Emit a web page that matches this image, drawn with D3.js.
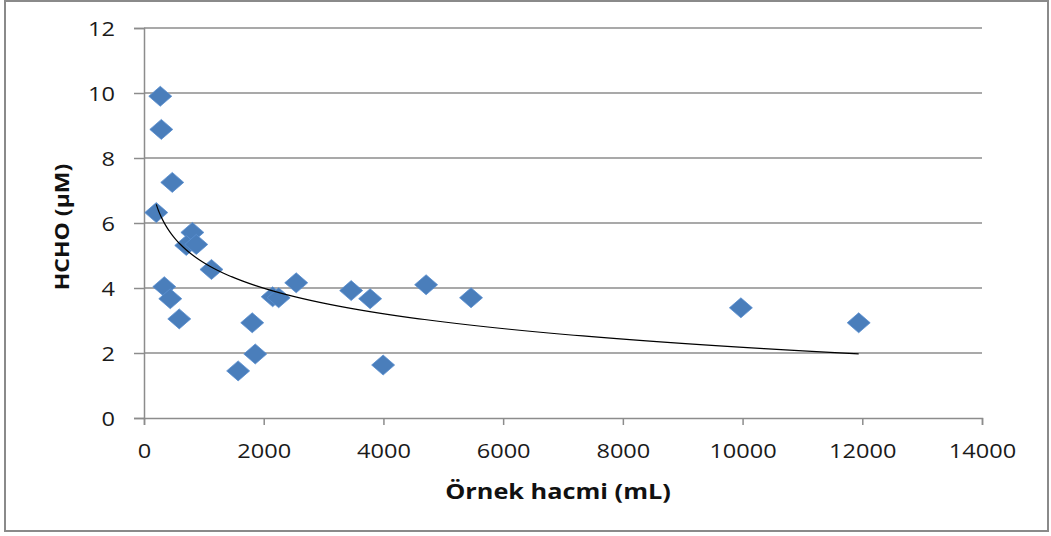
<!DOCTYPE html>
<html>
<head>
<meta charset="utf-8">
<script src="https://cdn.jsdelivr.net/npm/d3@7"></script>
<style>
  html, body { margin: 0; padding: 0; background: #fff; }
  svg { display: block; }
</style>
</head>
<body>
<svg id="chart" width="1051" height="536"></svg>
<script>
// Sample volume (mL) vs formaldehyde concentration (µM)
const volume = [272, 289, 472, 205, 339, 439, 589, 808, 706, 873, 1127, 1808, 1859, 1573,
                2150, 2250, 2543, 3461, 3778, 4713, 5464, 3995, 9972, 11940];
const hcho   = [9.90, 8.88, 7.25, 6.32, 4.04, 3.67, 3.05, 5.71, 5.31, 5.34, 4.57, 2.93, 1.97, 1.45,
                3.73, 3.70, 4.16, 3.92, 3.67, 4.10, 3.70, 1.63, 3.39, 2.93];
const xTicks = [0, 2000, 4000, 6000, 8000, 10000, 12000, 14000];
const yTicks = [0, 2, 4, 6, 8, 10, 12];
const xTitle = "Örnek hacmi (mL)";
const yTitle = "HCHO (µM)";

const svg = d3.select("#chart");
const plot = { left: 144, right: 982, top: 28, bottom: 418 };
const gridColor = "#8c8c8c";
const markColor = "#4a7ebb";
const fontFamily = "'Open Sans', 'Noto Sans', sans-serif";
const stretch = 1.15;

// outer frame
svg.append("rect")
  .attr("x", 5).attr("y", 1).attr("width", 1043).attr("height", 530)
  .attr("fill", "#fff").attr("stroke", "#8a8a8a").attr("stroke-width", 2);

const x = d3.scaleLinear().domain([0, 14000]).range([plot.left, plot.right]);
const y = d3.scaleLinear().domain([0, 12]).range([plot.bottom, plot.top]);

// horizontal gridlines
svg.append("g").selectAll("line")
  .data(yTicks.filter(t => t > 0))
  .join("line")
  .attr("x1", plot.left).attr("x2", plot.right)
  .attr("y1", d => y(d)).attr("y2", d => y(d))
  .attr("stroke", gridColor).attr("stroke-width", 1.5);

// y axis
const yAxis = svg.append("g")
  .attr("transform", `translate(${plot.left},0)`)
  .call(d3.axisLeft(y).tickValues(yTicks).tickSize(10).tickPadding(0).tickFormat(d3.format("d")));
yAxis.select(".domain").attr("stroke", gridColor).attr("stroke-width", 1.5);
yAxis.selectAll(".tick line").attr("stroke", gridColor).attr("stroke-width", 1.5);
yAxis.selectAll(".tick text").remove();
yAxis.selectAll(".tick").append("text")
  .attr("transform", `translate(-29,0) scale(${stretch},1)`)
  .attr("text-anchor", "end").attr("dy", "0.35em")
  .attr("fill", "#1a1a1a").style("font", `20.5px ${fontFamily}`)
  .text(d => d3.format("d")(d));

// x axis
const xAxis = svg.append("g")
  .attr("transform", `translate(0,${plot.bottom})`)
  .call(d3.axisBottom(x).tickValues(xTicks).tickSize(7).tickFormat(d3.format("d")));
xAxis.select(".domain").attr("stroke", gridColor).attr("stroke-width", 1.5);
xAxis.selectAll(".tick line").attr("stroke", gridColor).attr("stroke-width", 1.5);
xAxis.selectAll(".tick text").remove();
xAxis.selectAll(".tick").append("text")
  .attr("transform", `translate(0,33) scale(${stretch},1)`)
  .attr("text-anchor", "middle").attr("dy", "0.35em")
  .attr("fill", "#1a1a1a").style("font", `20.5px ${fontFamily}`)
  .text(d => d3.format("d")(d));

// axis titles
svg.append("text")
  .attr("transform", `translate(558,491) scale(${stretch},1)`)
  .attr("text-anchor", "middle").attr("dy", "0.35em")
  .attr("fill", "#111").style("font", `bold 22px ${fontFamily}`)
  .text(xTitle);
svg.append("text")
  .attr("transform", `translate(62,227) rotate(-90) scale(${stretch},1)`)
  .attr("text-anchor", "middle").attr("dy", "0.35em")
  .attr("fill", "#111").style("font", `bold 20px ${fontFamily}`)
  .text(yTitle);

// points
const points = volume.map((v, i) => ({ v, c: hcho[i] }));
const dw = 11.5, dh = 10;
svg.append("g").selectAll("path")
  .data(points)
  .join("path")
  .attr("transform", d => `translate(${x(d.v)},${y(d.c)})`)
  .attr("d", `M0,${-dh}L${dw},0L0,${dh}L${-dw},0Z`)
  .attr("fill", markColor)
  .attr("stroke", "#5b8fd0").attr("stroke-width", 0.8);

// logarithmic trendline: least-squares fit of hcho = a*ln(volume) + b
const lx = volume.map(Math.log);
const mx = d3.mean(lx), my = d3.mean(hcho);
const a = d3.sum(lx, (l, i) => (l - mx) * (hcho[i] - my)) / d3.sum(lx, l => (l - mx) ** 2);
const b = my - a * mx;
const [vMin, vMax] = d3.extent(volume);
const trend = d3.range(0, 201).map(k => {
  const v = Math.exp(Math.log(vMin) + (Math.log(vMax) - Math.log(vMin)) * k / 200);
  return [v, a * Math.log(v) + b];
});
svg.append("path")
  .datum(trend)
  .attr("d", d3.line().x(d => x(d[0])).y(d => y(d[1])))
  .attr("fill", "none").attr("stroke", "#000").attr("stroke-width", 1.2);
</script>
</body>
</html>
